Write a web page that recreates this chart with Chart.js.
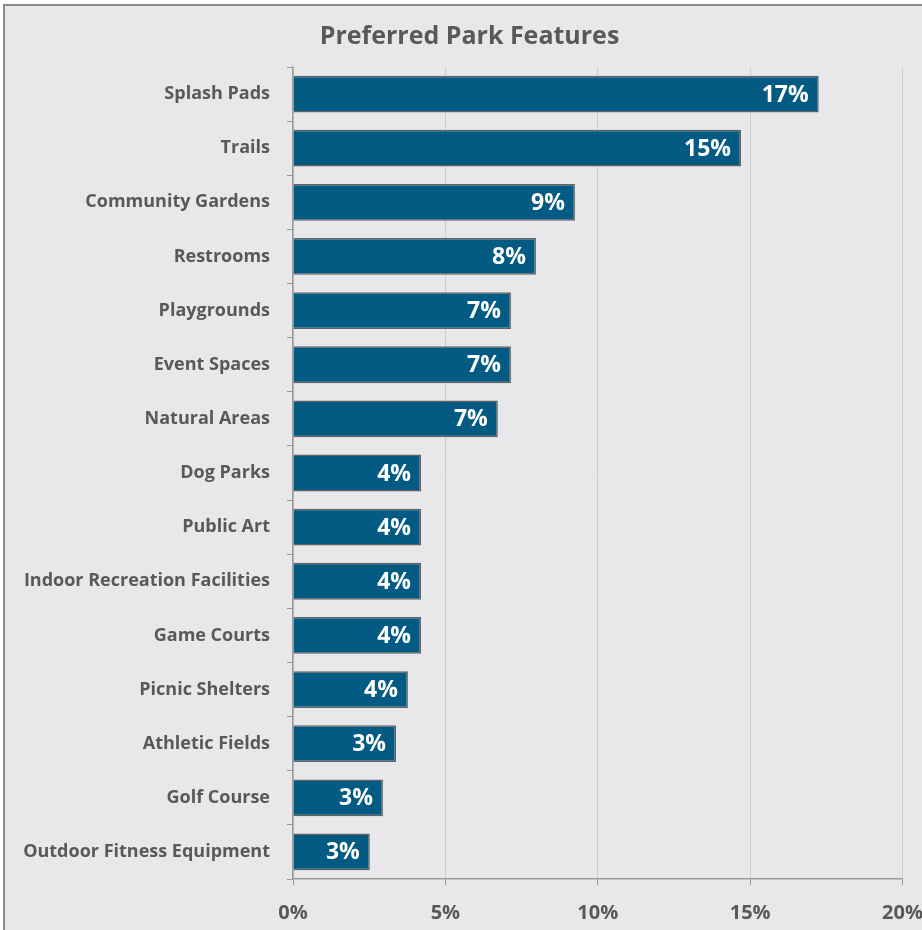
<!DOCTYPE html>
<html>
<head>
<meta charset="utf-8">
<script src="https://cdn.jsdelivr.net/npm/chart.js@4"></script>
<style>
  html, body { margin: 0; padding: 0; background: #ffffff; overflow: hidden; }
  #wrap { position: relative; width: 939px; height: 941px; }
</style>
</head>
<body>
<div id="wrap"><canvas id="chart"></canvas></div>
<script>
// Survey answers, share of respondents (%)
const features = [
    "Splash Pads", "Trails", "Community Gardens", "Restrooms", "Playgrounds",
    "Event Spaces", "Natural Areas", "Dog Parks", "Public Art",
    "Indoor Recreation Facilities", "Game Courts", "Picnic Shelters",
    "Athletic Fields", "Golf Course", "Outdoor Fitness Equipment"
];
const shares = [17.25, 14.7, 9.25, 7.97, 7.15, 7.15, 6.72, 4.2, 4.2, 4.2, 4.2, 3.77, 3.38, 2.95, 2.52];
const xTicks = [0, 5, 10, 15, 20];

const FONT = "'Open Sans', 'DejaVu Sans', sans-serif";
const GREY_TEXT = "#595959";

// gray panel with a frame behind the whole chart
const panel = {
    id: "panel",
    beforeDraw(chart) {
        const c = chart.ctx;
        c.save();
        c.fillStyle = "#ffffff";
        c.fillRect(0, 0, chart.width, chart.height);
        c.fillStyle = "#e8e8ea";
        c.fillRect(4, 5, chart.width, chart.height);
        c.strokeStyle = "#8a8a8a";
        c.lineWidth = 2;
        c.strokeRect(4, 5, chart.width + 10, chart.height + 10);
        c.restore();
    }
};

// white percentage inside the end of each bar
const barLabels = {
    id: "barLabels",
    afterDatasetsDraw(chart) {
        const c = chart.ctx;
        const meta = chart.getDatasetMeta(0);
        c.save();
        c.font = "bold 23px " + FONT;
        c.fillStyle = "#ffffff";
        c.textAlign = "right";
        c.textBaseline = "middle";
        meta.data.forEach((bar, i) => {
            c.fillText(Math.round(shares[i]) + "%", bar.x - 10, bar.y + 1);
        });
        c.restore();
    }
};

new Chart(document.getElementById("chart"), {
    type: "bar",
    data: {
        labels: features,
        datasets: [{
            data: shares,
            backgroundColor: "#035a82",
            borderColor: "#626262",
            borderWidth: 1.5,
            categoryPercentage: 0.68,
            barPercentage: 1
        }]
    },
    options: {
        indexAxis: "y",
        responsive: true,
        maintainAspectRatio: false,
        animation: false,
        layout: { padding: { top: 0, left: 0, right: 0, bottom: 0 } },
        plugins: {
            legend: { display: false },
            tooltip: { enabled: false },
            title: {
                display: true,
                text: "Preferred Park Features",
                color: GREY_TEXT,
                font: { family: FONT, size: 25, weight: "bold" },
                padding: { top: 22, bottom: 15 }
            }
        },
        scales: {
            x: {
                min: 0,
                max: 20,
                afterBuildTicks(scale) {
                    scale.ticks = xTicks.map(v => ({ value: v }));
                },
                ticks: {
                    color: GREY_TEXT,
                    font: { family: FONT, size: 20, weight: "bold" },
                    padding: 16,
                    callback: v => v + "%"
                },
                grid: { color: "#cdcdcd", lineWidth: 1, tickLength: 6, tickColor: "#9a9a9a" },
                border: { color: "#9a9a9a", width: 1.5 }
            },
            y: {
                afterFit(scale) { scale.width = 293; },
                ticks: {
                    color: GREY_TEXT,
                    font: { family: FONT, size: 18, weight: "bold" },
                    padding: 17
                },
                grid: { offset: true, drawOnChartArea: false, tickLength: 6, tickColor: "#9a9a9a" },
                border: { color: "#9a9a9a", width: 1.5 }
            }
        }
    },
    plugins: [panel, barLabels]
});
</script>
</body>
</html>
